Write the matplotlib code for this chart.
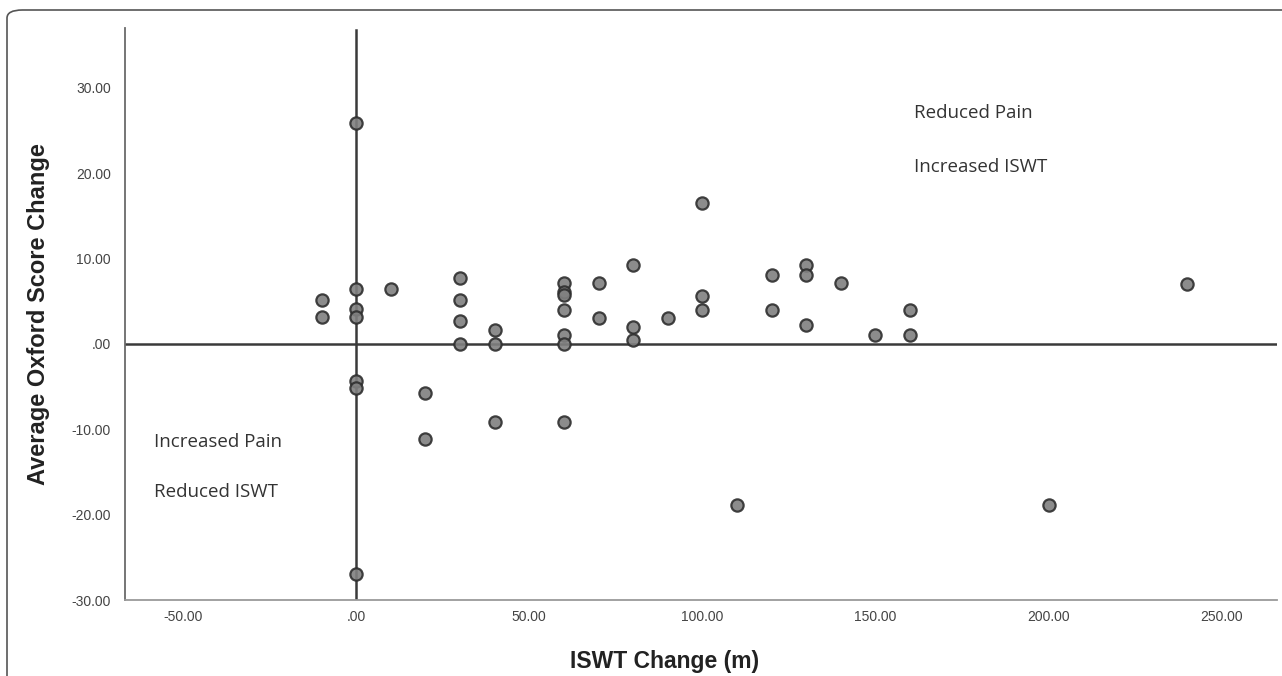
import matplotlib
matplotlib.use("Agg")
import matplotlib.pyplot as plt
from matplotlib.patches import FancyBboxPatch
from matplotlib.ticker import FuncFormatter

# ISWT change (m) vs average Oxford score change, one entry per patient
iswt_change = [-10, -10,
               0, 0, 0, 0, 0, 0, 0,
               10,
               20, 20,
               30, 30, 30, 30,
               40, 40, 40,
               60, 60, 60, 60, 60, 60, 60,
               70, 70,
               80, 80, 80,
               90,
               100, 100, 100,
               110,
               120, 120,
               130, 130, 130,
               140,
               150,
               160, 160,
               200,
               240]
oxford_change = [5.1, 3.1,
                 25.9, 6.4, 4.1, 3.1, -4.4, -5.2, -26.9,
                 6.4,
                 -5.8, -11.1,
                 7.7, 5.1, 2.7, 0.0,
                 1.6, 0.0, -9.1,
                 7.1, 6.1, 5.7, 4.0, 1.0, 0.0, -9.2,
                 7.1, 3.0,
                 9.2, 2.0, 0.5,
                 3.0,
                 16.5, 5.6, 4.0,
                 -18.9,
                 8.1, 4.0,
                 9.2, 8.1, 2.25,
                 7.1,
                 1.0,
                 4.0, 1.0,
                 -18.9,
                 7.0]

x_ticks = [-50, 0, 50, 100, 150, 200, 250]
y_ticks = [-30, -20, -10, 0, 10, 20, 30]

W, H = 1282, 676
fig = plt.figure(figsize=(W / 100, H / 100), dpi=100, facecolor="white")

# rounded outer frame, running off the right and bottom edges
frame = FancyBboxPatch((7 / W, -0.2), 1.2, 1 - 10 / H + 0.2,
                       boxstyle="round,pad=0,rounding_size=0.012",
                       transform=fig.transFigure, facecolor="none",
                       edgecolor="#555555", linewidth=1.2, zorder=10)
fig.patches.append(frame)

ax = fig.add_axes([125 / W, 1 - 600 / H, (1277 - 125) / W, (600 - 28) / H])
ax.patch.set_alpha(0)

ax.set_xlim(-66.8, 266)
ax.set_ylim(-30, 37)

# reference lines through zero
ax.axhline(0, color="#3a3a3a", linewidth=1.8, zorder=2)
ax.plot([0, 0], [-30, 36.8], color="#3a3a3a", linewidth=1.8, zorder=2)

ax.scatter(iswt_change, oxford_change, s=78, facecolor="#808080",
           edgecolor="#2e2e2e", linewidth=1.6, alpha=0.9, zorder=3)

for s in ["top", "right"]:
    ax.spines[s].set_visible(False)
ax.spines["left"].set_color("#6a6a6a")
ax.spines["left"].set_linewidth(1.3)
ax.spines["bottom"].set_color("#9a9a9a")
ax.spines["bottom"].set_linewidth(1.3)


def spss_fmt(v, pos):
    s = f"{v:.2f}"
    if s.startswith("0"):
        s = s[1:]
    if s.startswith("-0"):
        s = "-" + s[2:]
    return s


ax.set_xticks(x_ticks)
ax.set_yticks(y_ticks)
ax.xaxis.set_major_formatter(FuncFormatter(spss_fmt))
ax.yaxis.set_major_formatter(FuncFormatter(spss_fmt))
tick_font = ["Liberation Sans", "DejaVu Sans"]
ax.tick_params(length=0, labelsize=10, colors="#444444")
for lab in ax.get_xticklabels() + ax.get_yticklabels():
    lab.set_family(tick_font)
ax.tick_params(axis="y", pad=10)
ax.tick_params(axis="x", pad=7)

ax.set_xlabel("ISWT Change (m)", fontsize=16.5, fontweight="bold",
              family=["Liberation Sans", "DejaVu Sans"], color="#222222")
ax.xaxis.set_label_coords((665 - 125) / (1277 - 125), -(650 - 600) / (600 - 28))
ax.set_ylabel("Average Oxford Score Change", fontsize=17, fontweight="bold",
              family=["Liberation Sans", "DejaVu Sans"], color="#222222")
ax.yaxis.set_label_coords(-(125 - 50) / (1277 - 125), 0.5)

note_kw = dict(fontsize=13.5, color="#333333", family=["Open Sans", "DejaVu Sans"],
               va="center", ha="left")
ax.text(161, 27.1, "Reduced Pain", **note_kw)
ax.text(161, 20.7, "Increased ISWT", **note_kw)
ax.text(-58.5, -11.5, "Increased Pain", **note_kw)
ax.text(-58.5, -17.4, "Reduced ISWT", **note_kw)

fig.savefig("out.png", dpi=100)
